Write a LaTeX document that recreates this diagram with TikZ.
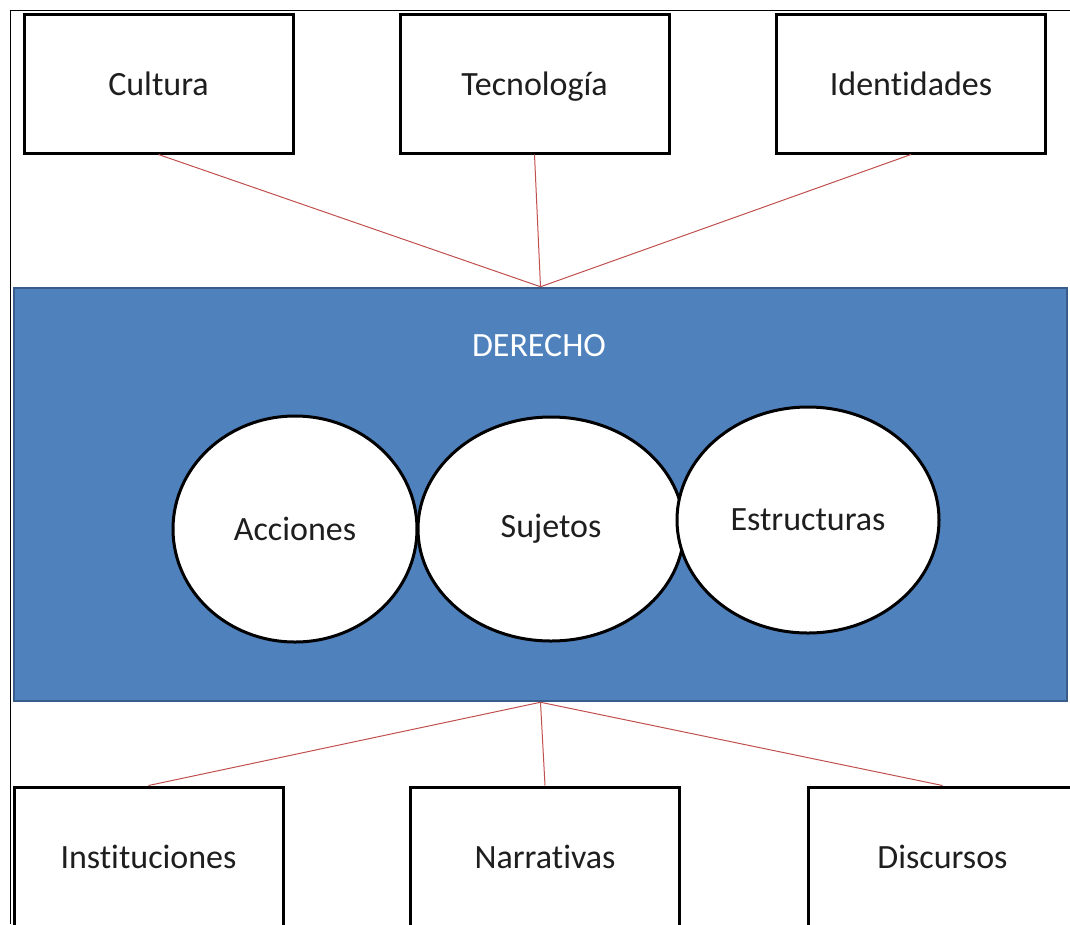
\documentclass[tikz,border=0pt]{standalone}
\usepackage{fontspec}
\setmainfont[Ligatures=NoCommon]{Carlito}
\usetikzlibrary{shapes.geometric}
\definecolor{azul}{RGB}{79,129,189}
\definecolor{azulborde}{RGB}{56,93,138}
\definecolor{rojo}{RGB}{192,80,77}
\definecolor{texto}{RGB}{30,30,30}
\begin{document}
\begin{tikzpicture}[x=1pt,y=-1pt,
  caja/.style={draw,line width=3pt,fill=white,minimum width=269pt,minimum height=139pt,text=texto,text height=23pt,text depth=0pt,font=\fontsize{34}{40}\selectfont},
  bola/.style={ellipse,draw,line width=3pt,fill=white,inner sep=0pt,text=texto,font=\fontsize{34}{40}\selectfont},
  enlace/.style={rojo,line width=1pt}]
\useasboundingbox (0,0) rectangle (1070,924);
\draw[line width=1.5pt] (10.5,924) -- (10.5,10.5) -- (1070,10.5);
% cajas de arriba
\node[caja] (cultura) at (158.5,83.5) {Cultura};
\node[caja] (tecnologia) at (534.5,83.5) {Tecnología};
\node[caja] (identidades) at (911,83.5) {Identidades};
% bloque central
\node[draw=azulborde,line width=2.5pt,fill=azul,minimum width=1053pt,minimum height=413pt] (derecho) at (540.5,494.5) {};
\node[text=white,font=\fontsize{34}{40}\selectfont] (titulo) at (539,346) {DERECHO};
\node[bola,minimum width=244pt,minimum height=226pt] (acciones) at (295,529) {Acciones};
\node[bola,minimum width=266pt,minimum height=224pt] (sujetos) at (551,529) {Sujetos};
\node[bola,minimum width=262pt,minimum height=226pt] (estructuras) at (808,520) {Estructuras};
% cajas de abajo
\node[caja,minimum height=140pt] (instituciones) at (148.5,857) {Instituciones};
\node[caja,minimum height=140pt] (narrativas) at (545,857) {Narrativas};
\node[caja,minimum height=140pt] (discursos) at (942.5,857) {Discursos};
\draw[enlace] (cultura.south) -- (derecho.north);
\draw[enlace] (tecnologia.south) -- (derecho.north);
\draw[enlace] (identidades.south) -- (derecho.north);
\draw[enlace] (derecho.south) -- (instituciones.north);
\draw[enlace] (derecho.south) -- (narrativas.north);
\draw[enlace] (derecho.south) -- (discursos.north);
\end{tikzpicture}
\end{document}
